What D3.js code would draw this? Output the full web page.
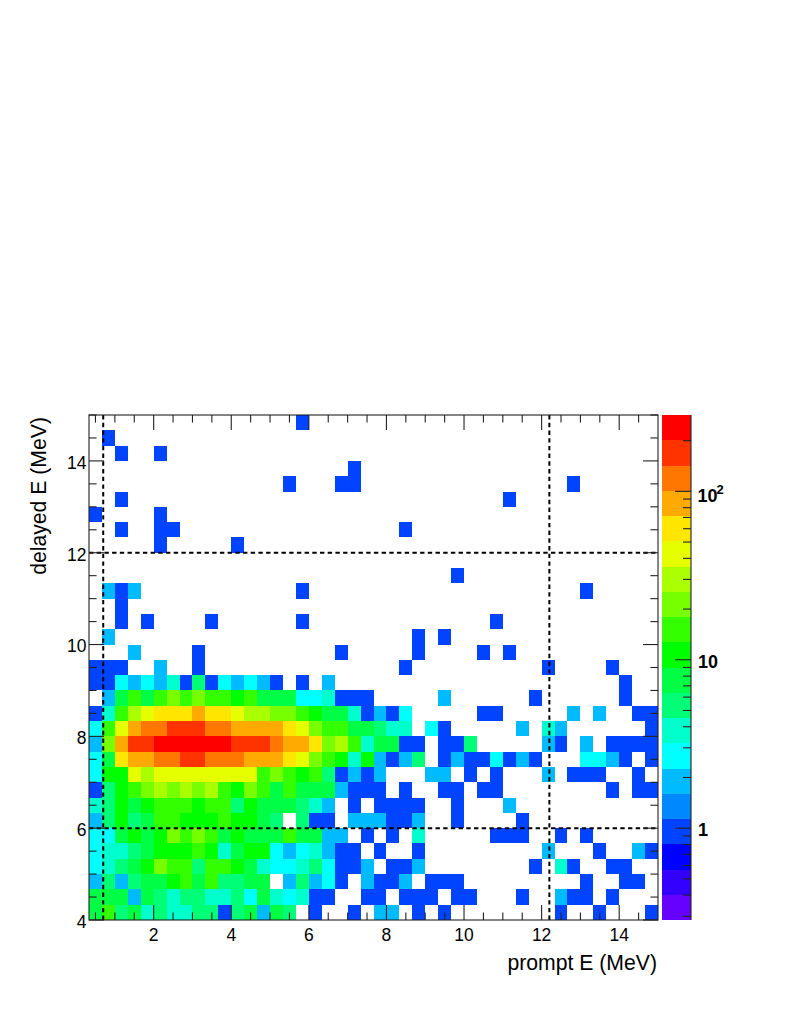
<!DOCTYPE html>
<html>
<head>
<meta charset="utf-8">
<style>html,body{margin:0;padding:0;background:#fff}svg{display:block}text{font-family:"Liberation Sans",Arial,sans-serif;fill:#000}</style>
<script src="https://cdn.jsdelivr.net/npm/d3@7"></script>
</head>
<body>
<svg id="c" width="789" height="1021"></svg>
<script>
// counts per bin, rows from delayed E = 4 MeV upward, 44 prompt-E columns per row
const lowerRows = [
[8,16,5,8,4,5,4,4,5,5,1,5,8,2,8,5,0,1,0,0,1,0,2,2,0,1,0,1,0,0,0,0,0,0,0,0,1,0,0,1,0,0,0,1],
[8,8,8,2,8,5,4,5,5,4,4,5,3,8,4,3,4,1,1,0,0,1,1,0,1,1,1,0,1,1,0,0,0,1,0,0,2,1,1,0,1,0,0,0],
[2,5,2,5,8,8,11,16,8,16,5,5,8,8,0,2,5,2,3,1,0,2,1,1,2,0,1,1,1,0,0,0,0,0,0,0,0,0,1,0,0,1,1,0],
[3,4,5,8,11,22,16,16,5,16,16,11,8,4,3,3,4,5,3,1,1,2,0,1,1,2,0,0,0,0,0,0,0,0,1,0,4,1,0,0,1,1,0,0],
[3,4,4,5,8,11,11,11,16,11,4,8,11,11,3,2,3,4,2,1,1,0,1,0,0,1,0,0,0,0,0,0,0,0,0,2,0,0,0,1,0,0,2,1],
[3,3,8,11,8,11,22,16,22,16,8,11,8,8,8,16,8,8,2,2,0,1,0,1,0,4,0,0,0,0,0,1,1,1,0,0,1,0,1,0,0,0,0,0],
[2,5,11,5,8,16,16,11,11,11,16,11,11,8,5,0,5,1,1,0,2,2,2,1,1,2,0,0,1,0,0,0,0,1,0,0,0,0,0,0,0,0,0,0],
[4,5,11,8,11,16,16,16,11,16,16,5,11,8,8,8,5,4,2,0,1,0,1,1,1,1,0,0,1,0,0,0,2,0,0,0,0,0,0,0,0,0,0,0],
[1,5,11,16,22,32,22,32,22,32,16,11,22,16,8,16,8,8,8,2,1,1,1,0,1,0,0,1,1,0,1,1,0,0,0,0,0,0,0,0,1,0,1,1],
[3,11,11,45,32,45,45,45,45,45,45,45,45,16,22,16,11,16,5,1,2,1,2,0,0,0,2,2,0,1,0,1,0,0,0,2,0,1,1,1,0,0,1,0],
[3,8,63,90,90,125,125,180,180,125,125,125,90,90,90,63,45,22,16,11,4,11,2,1,2,5,0,1,2,1,1,3,1,2,1,0,0,0,3,3,2,1,0,1],
[2,22,90,180,180,250,250,250,250,250,250,180,180,180,125,90,90,63,22,32,16,4,8,8,1,1,0,1,1,5,0,0,0,0,0,2,1,0,2,0,1,1,1,1],
[3,16,45,90,125,125,180,180,180,125,125,90,90,90,90,63,45,22,16,16,8,8,5,4,4,0,3,1,0,0,0,0,0,2,0,4,2,0,0,0,0,0,0,1],
[1,4,16,32,45,63,63,63,90,63,63,45,32,32,22,22,16,11,8,8,4,1,2,1,3,0,0,0,0,0,1,1,0,0,0,0,0,2,0,2,0,0,1,1],
[0,2,8,16,8,16,22,16,22,16,16,11,16,8,8,8,3,3,4,1,1,1,0,0,0,0,0,2,0,0,0,0,0,0,1,0,0,0,0,0,0,1,0,0],
[1,1,3,2,3,2,4,1,5,1,3,2,3,2,1,0,1,0,2,0,0,0,0,0,0,0,0,0,0,0,0,0,0,0,0,0,0,0,0,0,0,1,0,0],
[1,1,1,0,0,2,0,0,1,0,0,0,0,0,0,0,0,0,0,0,0,0,0,0,1,0,0,0,0,0,0,0,0,0,0,1,0,0,0,0,1,0,0,0]
];
// sparse rows above: [row, column, count]
const upperBins = [
[17,3,2],[17,8,1],[17,19,1],[17,25,1],[17,30,1],[17,32,1],
[18,1,2],[18,25,1],[18,27,1],
[19,2,1],[19,4,1],[19,9,1],[19,16,1],[19,31,1],
[20,2,1],
[21,1,2],[21,2,1],[21,3,2],[21,16,1],[21,38,1],
[22,28,1],
[24,5,1],[24,11,1],
[25,2,1],[25,5,1],[25,6,1],[25,24,1],
[26,0,1],[26,5,1],
[27,2,1],[27,32,1],
[28,15,1],[28,19,1],[28,20,1],[28,37,1],
[29,20,1],
[30,2,1],[30,5,1],
[31,1,1],
[32,16,1]
];
const palette = ["#6600ff","#3300ff","#0000ff","#0044ff","#0088ff","#00bbff","#00ffff","#00ffcc","#00ff77","#00ff44","#00ff00","#33ff00","#77ff00","#aaff00","#e6ff00","#ffe600","#ffaa00","#ff7700","#ff3300","#ff0000"];
const xTickLabels = [2,4,6,8,10,12,14];
const yTickLabels = [4,6,8,10,12,14];
const cutsX = [0.7,12.2];
const cutsY = [6,12];
const zMajor = [1,10,100];
const zMinor = [0.3,0.4,0.5,0.6,0.7,0.8,0.9,2,3,4,5,6,7,8,9,20,30,40,50,60,70,80,90,200];
const binWidth = 1/3;
const xMin = 1/3, xMax = 15, yMin = 4, yMax = 15, zMin = 0.285, zMax = 284;

const L=89,R=658,T=415,B=920,barL=662,barR=691;
const svg = d3.select("#c");
const x = d3.scaleLinear().domain([xMin,xMax]).range([L,R]);
const y = d3.scaleLinear().domain([yMin,yMax]).range([B,T]);
const zPos = d3.scaleLog().domain([zMin,zMax]).range([B,T]);
const color = d3.scaleQuantize().domain([Math.log10(zMin),Math.log10(zMax)]).range(palette);

const bins = [];
lowerRows.forEach((row,r)=>row.forEach((v,c)=>{ if(v>0) bins.push({r,c,v}); }));
upperBins.forEach(([r,c,v])=>bins.push({r,c,v}));

svg.append("g").attr("shape-rendering","crispEdges").selectAll("rect").data(bins).join("rect")
  .attr("x",d=>x(xMin+d.c*binWidth))
  .attr("y",d=>y(yMin+(d.r+1)*binWidth))
  .attr("width",x(binWidth)-x(0))
  .attr("height",y(0)-y(binWidth))
  .attr("fill",d=>color(Math.log10(d.v)));

// cut lines
const dash="4.4 3.3";
svg.append("g").selectAll("line").data(cutsX).join("line")
  .attr("x1",d=>x(d)).attr("x2",d=>x(d)).attr("y1",B).attr("y2",T)
  .attr("stroke","#000").attr("stroke-width",2).attr("stroke-dasharray",dash);
svg.append("g").selectAll("line").data(cutsY).join("line")
  .attr("y1",d=>y(d)).attr("y2",d=>y(d)).attr("x1",L).attr("x2",R)
  .attr("stroke","#000").attr("stroke-width",2).attr("stroke-dasharray",dash);

// ticks
const frame = svg.append("g").attr("stroke","#222").attr("stroke-width",1.1);
const major=15, minor=7.6;
d3.range(1,30).map(i=>i*0.5).filter(v=>v>=xMin&&v<=xMax).forEach(v=>{
  const len = (v%2===0)?major:minor;
  frame.append("line").attr("x1",x(v)).attr("x2",x(v)).attr("y1",B).attr("y2",B-len);
  frame.append("line").attr("x1",x(v)).attr("x2",x(v)).attr("y1",T).attr("y2",T+len);
});
d3.range(8,31).map(i=>i*0.5).forEach(v=>{
  const len = (v%2===0)?major:minor;
  frame.append("line").attr("y1",y(v)).attr("y2",y(v)).attr("x1",L).attr("x2",L+len);
  frame.append("line").attr("y1",y(v)).attr("y2",y(v)).attr("x1",R).attr("x2",R-len);
});
frame.append("rect").attr("x",L).attr("y",T).attr("width",R-L).attr("height",B-T).attr("fill","none");

// tick labels
svg.append("g").selectAll("text").data(xTickLabels).join("text")
  .attr("x",d=>x(d)).attr("y",940.5).attr("text-anchor","middle").attr("font-size",17.5).text(d=>d);
svg.append("g").selectAll("text").data(yTickLabels).join("text")
  .attr("x",86.5).attr("y",d=>y(d)+7.8).attr("text-anchor","end").attr("font-size",17.5).text(d=>d);

// titles
svg.append("text").attr("x",657).attr("y",970).attr("text-anchor","end").attr("font-size",21.2).text("prompt E (MeV)");
svg.append("text").attr("transform","translate(46,417) rotate(-90)").attr("text-anchor","end").attr("font-size",21.2).text("delayed E (MeV)");

// colour bar
const bandEdges = d3.range(palette.length+1).map(i=>zMin*Math.pow(zMax/zMin,i/palette.length));
svg.append("g").attr("shape-rendering","crispEdges").selectAll("rect").data(palette).join("rect")
  .attr("x",barL).attr("width",barR-barL)
  .attr("y",(d,i)=>zPos(bandEdges[i+1]))
  .attr("height",(d,i)=>zPos(bandEdges[i])-zPos(bandEdges[i+1]))
  .attr("fill",d=>d);
const zAxis = svg.append("g").attr("stroke","#222").attr("stroke-width",1.1);
zAxis.append("line").attr("x1",barR).attr("x2",barR).attr("y1",T).attr("y2",B);
zMajor.forEach(v=>zAxis.append("line").attr("x1",barR).attr("x2",barR-16).attr("y1",zPos(v)).attr("y2",zPos(v)));
zMinor.forEach(v=>zAxis.append("line").attr("x1",barR).attr("x2",barR-8).attr("y1",zPos(v)).attr("y2",zPos(v)));
const zl = svg.append("g").attr("font-size",18).attr("font-weight","bold");
zl.append("text").attr("x",698).attr("y",zPos(1)+7.5).text("1");
zl.append("text").attr("x",698).attr("y",zPos(10)+8).text("10");
const hh = zl.append("text").attr("x",697.5).attr("y",zPos(100)+10.7);
hh.append("tspan").text("10");
hh.append("tspan").attr("font-size",13).attr("dy",-8).attr("dx",-1).text("2");
</script>
</body>
</html>
